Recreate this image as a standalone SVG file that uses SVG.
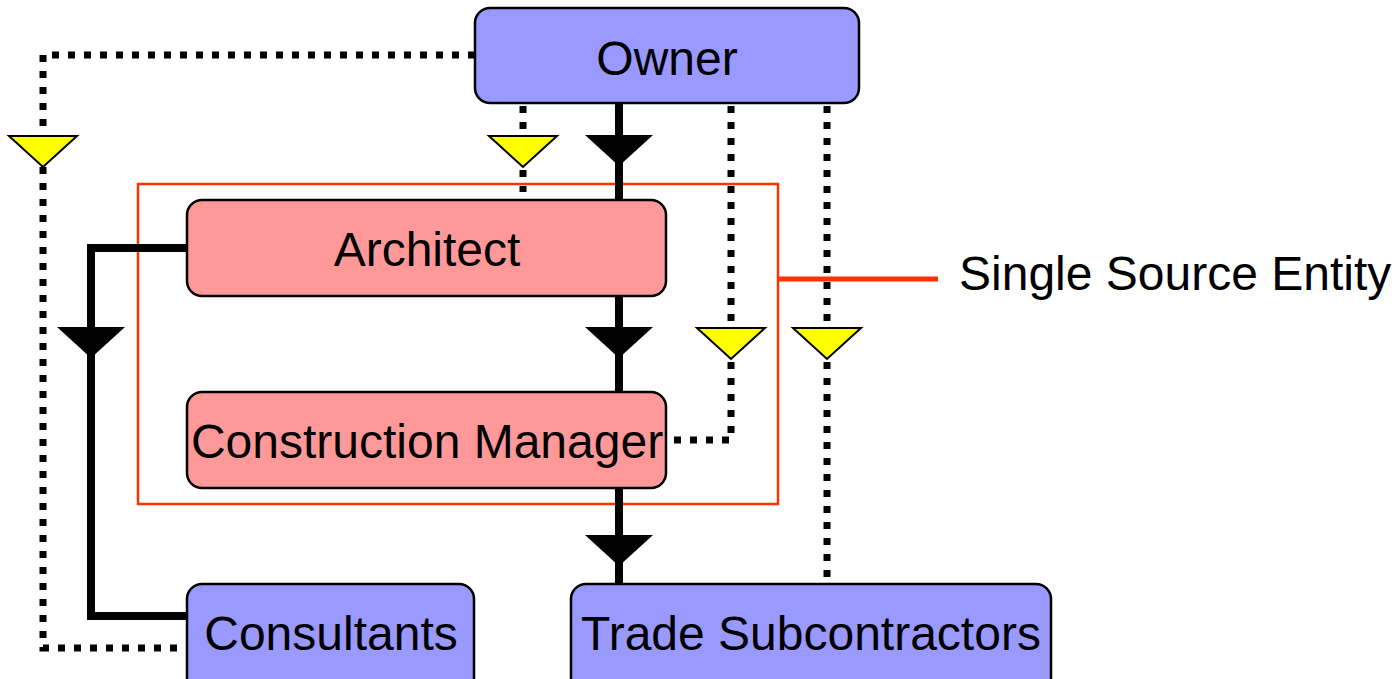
<svg xmlns="http://www.w3.org/2000/svg" width="1399" height="679" viewBox="0 0 1399 679">
  <style>
    .box { stroke: #000; stroke-width: 2.5; }
    .blue { fill: #9999FF; }
    .pink { fill: #FF9999; }
    .label { font-family: "Liberation Sans", Arial, sans-serif; font-size: 48px; fill: #000; text-anchor: middle; }
    .solid { fill: none; stroke: #000; stroke-width: 8; }
    .dotted { fill: none; stroke: #000; stroke-width: 7; stroke-dasharray: 7 9; }
    .tri-black { fill: #000; }
    .tri-yellow { fill: #FFFF00; stroke: #000; stroke-width: 2; stroke-linejoin: miter; }
  </style>
  <defs>
    <polygon id="tri" points="-34,0 34,0 0,31"/>
  </defs>

  <rect width="1399" height="679" fill="#fff"/>

  <!-- single source entity boundary -->
  <g id="boundary">
    <rect x="138" y="184" width="640" height="320" fill="none" stroke="#FF3300" stroke-width="2.5"/>
    <line x1="778" y1="279" x2="938" y2="279" stroke="#FF3300" stroke-width="5"/>
    <text x="959" y="290" class="label" style="text-anchor:start">Single Source Entity</text>
  </g>

  <!-- connectors -->
  <g id="connectors">
    <!-- contractual (solid) -->
    <line class="solid" x1="619" y1="103" x2="619" y2="200"/>
    <line class="solid" x1="619" y1="296" x2="619" y2="392"/>
    <line class="solid" x1="619" y1="488" x2="619" y2="584"/>
    <polyline class="solid" points="187,248 91,248 91,616 187,616"/>
    <!-- communication (dotted) -->
    <polyline class="dotted" points="475,55 43,55 43,648 187,648"/>
    <line class="dotted" x1="523" y1="106" x2="523" y2="192"/>
    <polyline class="dotted" points="731,106 731,440 668,440"/>
    <line class="dotted" x1="827" y1="106" x2="827" y2="578"/>

    <!-- arrowheads -->
    <use href="#tri" class="tri-black" x="619" y="135"/>
    <use href="#tri" class="tri-black" x="619" y="327"/>
    <use href="#tri" class="tri-black" x="619" y="535"/>
    <use href="#tri" class="tri-black" x="91" y="327"/>
    <use href="#tri" class="tri-yellow" x="43" y="136"/>
    <use href="#tri" class="tri-yellow" x="523" y="136"/>
    <use href="#tri" class="tri-yellow" x="731" y="328"/>
    <use href="#tri" class="tri-yellow" x="827" y="328"/>
  </g>

  <g id="owner">
    <rect class="box blue" x="475" y="8" width="384" height="95" rx="15"/>
    <text class="label" x="667" y="75">Owner</text>
  </g>
  <g id="architect">
    <rect class="box pink" x="187" y="200" width="479" height="96" rx="15"/>
    <text class="label" x="427" y="266">Architect</text>
  </g>
  <g id="construction-manager">
    <rect class="box pink" x="187" y="392" width="479" height="96" rx="15"/>
    <text class="label" x="427" y="458">Construction Manager</text>
  </g>
  <g id="consultants">
    <rect class="box blue" x="187" y="584" width="287" height="110" rx="15"/>
    <text class="label" x="331" y="650">Consultants</text>
  </g>
  <g id="trade-subcontractors">
    <rect class="box blue" x="571" y="584" width="480" height="110" rx="15"/>
    <text class="label" x="811" y="650">Trade Subcontractors</text>
  </g>
</svg>
